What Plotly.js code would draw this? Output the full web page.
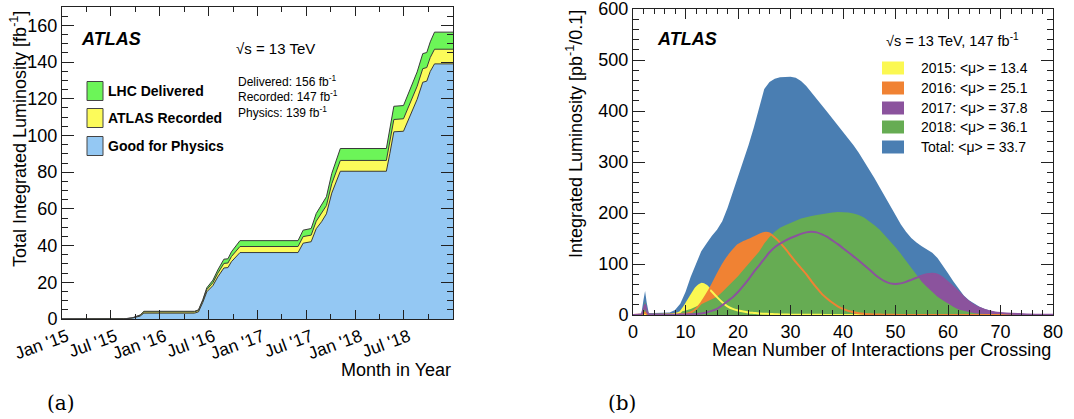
<!DOCTYPE html>
<html>
<head>
<meta charset="utf-8">
<script src="https://cdn.plot.ly/plotly-3.0.1.min.js"></script>
<style>html,body{margin:0;padding:0;background:#fff;}#chart{width:1074px;height:419px;}</style>
</head>
<body>
<div id="chart"></div>
<script>
// ---------- Panel (a): cumulative integrated luminosity ----------
const DATES = ['2015-01-01','2015-06-03','2015-08-20','2015-09-20','2015-10-20','2015-11-03',
  '2016-05-10','2016-05-25','2016-06-10','2016-06-25','2016-07-18','2016-08-05','2016-08-28','2016-09-12','2016-09-25','2016-10-27',
  '2017-06-01','2017-06-20','2017-07-20','2017-08-08','2017-08-28','2017-09-15','2017-10-05','2017-11-06',
  '2018-04-27','2018-05-10','2018-05-25','2018-06-30','2018-07-20','2018-08-20','2018-09-10','2018-09-25','2018-10-08','2018-10-24','2019-01-01'];
const DELIVERED = [0,0,0.1,0.6,2.2,4.2,
  4.2,5.0,10.5,17.0,21.2,26.7,32.6,32.8,36.6,42.7,
  42.7,48.4,49.3,57.5,62.0,66.6,79.3,92.9,
  92.9,103.0,115.9,116.3,123.7,134.6,144.6,145.2,151.0,156.3,156.3];
const RECORDED = [0,0,0.1,0.55,2.0,3.9,
  3.9,4.7,9.9,16.0,19.8,24.9,30.3,30.5,34.0,39.5,
  39.5,44.9,45.7,53.3,57.5,61.8,73.7,86.4,
  86.4,96.3,108.7,109.1,116.3,126.8,136.4,137.0,142.5,147.0,147.0];
const PHYSICS = [0,0,0.05,0.45,1.6,3.2,
  3.2,3.9,9.0,14.8,18.2,22.9,27.8,28.0,31.2,36.2,
  36.2,41.3,42.1,49.2,53.0,57.3,68.6,80.5,
  80.5,90.1,102.0,102.3,109.5,119.7,129.0,129.6,134.9,139.0,139.0];
const A_TICKVALS = ['2015-01-01','2015-07-01','2016-01-01','2016-07-01','2017-01-01','2017-07-01','2018-01-01','2018-07-01'];
const A_TICKTEXT = ["Jan '15","Jul '15","Jan '16","Jul '16","Jan '17","Jul '17","Jan '18","Jul '18"];
const A_NAMES = ['LHC Delivered','ATLAS Recorded','Good for Physics'];

// ---------- Panel (b): pile-up distributions ----------
const MU = [0,1,1.6,2.0,2.3,2.6,3,4,5,6,7,8,9,10,11,12,13,14,15,16,17,18,19,20,21,22,23,24,25,26,27,28,29,30,31,32,33,34,35,36,37,38,39,40,41,42,43,44,45,46,47,48,49,50,51,52,53,54,55,56,57,58,59,60,61,62,63,64,65,66,67,68,69,70,72,75,80];
const TOTAL = [1,2,3,30,47,25,4,4,4,4,5,10,22,45,75,100,125,140,155,167,184,210,240,270,300,333,367,405,443,457,463,466,467,467,465,459,449,437,424,411,398,385,372,360,347,333,318,302,285,268,250,231,213,196,178,163,151,142,135,129,122,112,98,82,66,51,38,29,22,16,12,8.5,6,4.5,2.5,1.2,0.5];
const Y2018 = [0.5,1,1.5,15,26,12,2,2,2,2.5,3,4,6,9,12,16,21,26,31,36,45,55,65,76,88,100,111,124,140,153,163,171,176,181,185,189,192,194,196,198,199,201,202,202,201,199,196,191,184,176,167,156,145,133,120,106,92,78,65,55,45,36,29,22,16,11,8,5,3.5,2.5,2,1.5,1.2,1,0.6,0.3,0.1];
const Y2016 = [0,0.3,0.5,3,5,2,0.5,0.5,0.5,0.5,0.5,0.7,1,2,5,12,24,40,58,78,97,113,126,137,143,147,152,157,161,160,152,142,130,117,104,92,80,66,53,41,32,24,17,12,8,5.5,3.5,2.5,1.5,1,0.8,0.5,0.4,0.3,0.2,0.2,0.1,0.1,0.1,0.1,0.1,0.1,0.1,0.1,0,0,0,0,0,0,0,0,0,0,0,0,0];
const Y2015 = [0,0,0.2,1,2,1,0.2,0.2,0.2,0.3,0.5,2,6,20,37,53,61,57,46,35,25,17,12,9,7,5,4,3,2.5,2,1.5,1,0.8,0.7,0.6,0.5,0.4,0.35,0.3,0.25,0.2,0.15,0.12,0.1,0,0,0,0,0,0,0,0,0,0,0,0,0,0,0,0,0,0,0,0,0,0,0,0,0,0,0,0,0,0,0,0,0];
const Y2017 = [0,0.5,1,10,20,8,1,0.5,0.5,0.5,0.5,0.6,0.8,1,1.5,2,3,5,8,12,19,27,35,45,57,70,84,97,110,123,133,140,146,151,155,159,162,163,162,158,153,146,139,131,123,115,107,98,89,80,72,66,62,61,62,65,69,73,77,80,81,79,73,64,55,45,35,26,19,14,10,7,5,4,2.5,1.2,0.5];
const B_LABELS = ['2015: &lt;μ&gt; = 13.4','2016: &lt;μ&gt; = 25.1','2017: &lt;μ&gt; = 37.8','2018: &lt;μ&gt; = 36.1','Total: &lt;μ&gt; = 33.7'];

// ---------- styles ----------
const W = 1074, H = 419;
const px = v => v / W, py = v => 1 - v / H;
const FONT = 'Liberation Sans, Arial, Helvetica, sans-serif';
const AX = '#222';
const C_A = {del: '#6cf558', rec: '#fcfb5a', phy: '#94c8f3', edge: '#3a3a3a'};
const C_B = {tot: '#4a7eb2', y18: '#66ac53', y16: '#f08233', y15: '#fbf852', y17: '#8b539d'};

const traces = [
  {x: DATES, y: DELIVERED, name: A_NAMES[0], type: 'scatter', mode: 'lines', fill: 'tozeroy',
   fillcolor: C_A.del, line: {color: C_A.edge, width: 1}, xaxis: 'x', yaxis: 'y', showlegend: false, hoverinfo: 'skip'},
  {x: DATES, y: RECORDED, name: A_NAMES[1], type: 'scatter', mode: 'lines', fill: 'tozeroy',
   fillcolor: C_A.rec, line: {color: C_A.edge, width: 1}, xaxis: 'x', yaxis: 'y', showlegend: false, hoverinfo: 'skip'},
  {x: DATES, y: PHYSICS, name: A_NAMES[2], type: 'scatter', mode: 'lines', fill: 'tozeroy',
   fillcolor: C_A.phy, line: {color: C_A.edge, width: 1}, xaxis: 'x', yaxis: 'y', showlegend: false, hoverinfo: 'skip'},

  {x: MU, y: TOTAL, type: 'scatter', mode: 'lines', fill: 'tozeroy', fillcolor: C_B.tot,
   line: {width: 0, color: C_B.tot}, xaxis: 'x2', yaxis: 'y2', showlegend: false, hoverinfo: 'skip'},
  {x: MU, y: Y2015, type: 'scatter', mode: 'lines', fill: 'tozeroy', fillcolor: C_B.y15,
   line: {width: 0, color: C_B.y15}, xaxis: 'x2', yaxis: 'y2', showlegend: false, hoverinfo: 'skip'},
  {x: MU, y: Y2016, type: 'scatter', mode: 'lines', fill: 'tozeroy', fillcolor: C_B.y16,
   line: {width: 0, color: C_B.y16}, xaxis: 'x2', yaxis: 'y2', showlegend: false, hoverinfo: 'skip'},
  {x: MU, y: Y2017, type: 'scatter', mode: 'lines', fill: 'tozeroy', fillcolor: C_B.y17,
   line: {width: 0, color: C_B.y17}, xaxis: 'x2', yaxis: 'y2', showlegend: false, hoverinfo: 'skip'},
  {x: MU, y: Y2018, type: 'scatter', mode: 'lines', fill: 'tozeroy', fillcolor: C_B.y18,
   line: {width: 0, color: C_B.y18}, xaxis: 'x2', yaxis: 'y2', showlegend: false, hoverinfo: 'skip'},
  {x: MU, y: Y2015, type: 'scatter', mode: 'lines', line: {width: 2, color: C_B.y15, shape: 'spline', smoothing: 0.6},
   xaxis: 'x2', yaxis: 'y2', showlegend: false, hoverinfo: 'skip'},
  {x: MU, y: Y2016, type: 'scatter', mode: 'lines', line: {width: 2, color: C_B.y16, shape: 'spline', smoothing: 0.6},
   xaxis: 'x2', yaxis: 'y2', showlegend: false, hoverinfo: 'skip'},
  {x: MU, y: Y2017, type: 'scatter', mode: 'lines', line: {width: 2, color: C_B.y17, shape: 'spline', smoothing: 0.6},
   xaxis: 'x2', yaxis: 'y2', showlegend: false, hoverinfo: 'skip'}
];

const axBase = {showline: true, linecolor: AX, linewidth: 1, mirror: 'allticks', ticks: 'inside',
  tickcolor: AX, showgrid: false, zeroline: false, ticklabeloverflow: 'allow',
  tickfont: {family: FONT, size: 18, color: '#000'}};

const layout = {
  width: W, height: H, margin: {l: 0, r: 0, t: 0, b: 0},
  paper_bgcolor: '#fff', plot_bgcolor: '#fff', showlegend: false,
  xaxis: Object.assign({}, axBase, {domain: [px(62), px(453)], anchor: 'y', type: 'date',
    range: ['2015-01-01', '2019-01-01'], tickmode: 'array', tickvals: A_TICKVALS, ticktext: A_TICKTEXT,
    tickangle: -20, ticklen: 9, ticklabelshift: 5, tickfont: {family: FONT, size: 17.5, color: '#000'},
    minor: {dtick: 'M3', tick0: '2015-01-01', ticklen: 5, tickcolor: AX, ticks: 'inside'}}),
  yaxis: Object.assign({}, axBase, {domain: [py(319), py(7)], anchor: 'x', range: [0, 170],
    dtick: 20, ticklen: 12, minor: {dtick: 5, ticklen: 6, tickcolor: AX, ticks: 'inside'}}),
  xaxis2: Object.assign({}, axBase, {domain: [px(633), px(1053)], anchor: 'y2', range: [0, 80],
    dtick: 10, ticklen: 10, minor: {dtick: 2, ticklen: 5, tickcolor: AX, ticks: 'inside'}}),
  yaxis2: Object.assign({}, axBase, {domain: [py(315), py(9)], anchor: 'x2', range: [0, 600],
    dtick: 100, ticklen: 12, minor: {dtick: 20, ticklen: 6, tickcolor: AX, ticks: 'inside'}}),
  shapes: [],
  annotations: []
};

function ann(text, x, y, opts) {
  layout.annotations.push(Object.assign({text: text, x: px(x), y: py(y), xref: 'paper', yref: 'paper',
    showarrow: false, xanchor: 'left', yanchor: 'middle', font: {family: FONT, size: 14, color: '#000'}}, opts || {}));
}

// panel (a) texts
ann('<b><i>ATLAS</i></b>', 79, 39, {font: {family: FONT, size: 18, color: '#000'}});
ann('√s = 13 TeV', 234, 49, {font: {family: FONT, size: 15, color: '#000'}});
ann('Delivered: 156 fb<sup>-1</sup>', 236, 81, {font: {family: FONT, size: 12, color: '#000'}});
ann('Recorded: 147 fb<sup>-1</sup>', 236, 96, {font: {family: FONT, size: 12, color: '#000'}});
ann('Physics: 139 fb<sup>-1</sup>', 236, 112, {font: {family: FONT, size: 12, color: '#000'}});
const aColors = [C_A.del, C_A.rec, C_A.phy];
const aRows = [91, 118, 146];
A_NAMES.forEach((n, i) => {
  layout.shapes.push({type: 'rect', xref: 'paper', yref: 'paper', x0: px(87), x1: px(103),
    y0: py(aRows[i] + 9.5), y1: py(aRows[i] - 9.5), fillcolor: aColors[i], line: {color: '#444', width: 1}});
  ann('<b>' + n + '</b>', 106, aRows[i], {font: {family: FONT, size: 14, color: '#000'}});
});
ann('Total Integrated Luminosity [fb<sup>-1</sup>]', 18, 9, {textangle: -90, xanchor: 'center', yanchor: 'top',
  font: {family: FONT, size: 18, color: '#000'}});
ann('Month in Year', 453, 370, {xanchor: 'right', font: {family: FONT, size: 18, color: '#000'}});
ann('(a)', 61, 403, {xanchor: 'center', font: {family: 'DejaVu Serif, Liberation Serif, serif', size: 20, color: '#000'}});

// panel (b) texts
ann('<b><i>ATLAS</i></b>', 655, 39, {font: {family: FONT, size: 18, color: '#000'}});
ann('√s = 13 TeV, 147 fb<sup>-1</sup>', 884, 40, {font: {family: FONT, size: 14.5, color: '#000'}});
const bColors = [C_B.y15, C_B.y16, C_B.y17, C_B.y18, C_B.tot];
const bRows = [68, 88, 108, 127, 147];
B_LABELS.forEach((t, i) => {
  layout.shapes.push({type: 'rect', xref: 'paper', yref: 'paper', x0: px(882), x1: px(904),
    y0: py(bRows[i] + 6.5), y1: py(bRows[i] - 6.5), fillcolor: bColors[i], line: {width: 0}});
  ann(t, 919, bRows[i], {font: {family: FONT, size: 14, color: '#000'}});
});
ann('Integrated Luminosity [pb<sup>-1</sup>/0.1]', 575, 8, {textangle: -90, xanchor: 'center', yanchor: 'top',
  font: {family: FONT, size: 18, color: '#000'}});
ann('Mean Number of Interactions per Crossing', 1053, 350, {xanchor: 'right', font: {family: FONT, size: 18, color: '#000'}});
ann('(b)', 622, 403, {xanchor: 'center', font: {family: 'DejaVu Serif, Liberation Serif, serif', size: 20, color: '#000'}});

Plotly.newPlot('chart', traces, layout, {displayModeBar: false, staticPlot: true});
</script>
</body>
</html>
